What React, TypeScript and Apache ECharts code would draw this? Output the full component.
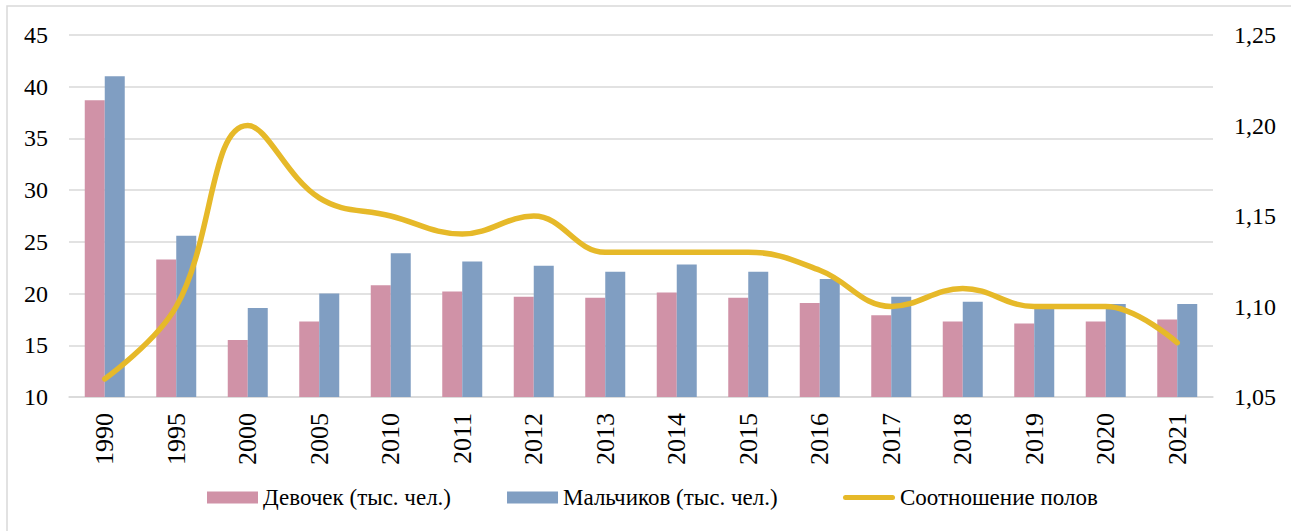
import React, { useEffect, useRef } from "react";
import * as echarts from "echarts";

const categories = ["1990", "1995", "2000", "2005", "2010", "2011", "2012", "2013", "2014", "2015", "2016", "2017", "2018", "2019", "2020", "2021"];
const girls = [38.7, 23.3, 15.5, 17.3, 20.8, 20.2, 19.7, 19.6, 20.1, 19.6, 19.1, 17.9, 17.3, 17.1, 17.3, 17.5];
const boys = [41.0, 25.6, 18.6, 20.0, 23.9, 23.1, 22.7, 22.1, 22.8, 22.1, 21.4, 19.7, 19.2, 18.9, 19.0, 19.0];
const ratio = [1.06, 1.10, 1.20, 1.16, 1.15, 1.14, 1.15, 1.13, 1.13, 1.13, 1.12, 1.10, 1.11, 1.10, 1.10, 1.08];

const FONT = "Liberation Serif";
const CAPSULE = "path://M2.5,0 H49.5 A2.5,2.5 0 0 1 49.5,5 H2.5 A2.5,2.5 0 0 1 2.5,0 Z";

export default function App() {
  const ref = useRef<HTMLDivElement>(null);
  useEffect(() => {
    document.body.style.margin = "0";
    const chart = echarts.init(ref.current!, null, { renderer: "svg" });
    chart.setOption({
      animation: false,
      backgroundColor: "#ffffff",
      textStyle: { fontFamily: FONT, color: "#000" },
      graphic: [
        {
          type: "rect",
          shape: { x: 7, y: 6, width: 1400, height: 700 },
          style: { fill: "none", stroke: "#d9d9d9", lineWidth: 1.5 },
          silent: true,
        },
      ],
      grid: { left: 69, right: 78, top: 35, bottom: 134, containLabel: false },
      legend: [
        {
          left: 207,
          top: 486,
          padding: 0,
          itemWidth: 51,
          itemHeight: 12,
          itemGap: 56,
          textStyle: { fontFamily: FONT, fontSize: 23, color: "#000" },
          data: [
            { name: "Девочек (тыс. чел.)", icon: "rect" },
            { name: "Мальчиков (тыс. чел.)", icon: "rect" },
          ],
        },
        {
          left: 843,
          top: 486,
          padding: 0,
          itemWidth: 52,
          itemHeight: 5,
          textStyle: { fontFamily: FONT, fontSize: 23, color: "#000" },
          data: [{ name: "Соотношение полов", icon: CAPSULE }],
        },
      ],
      xAxis: {
        type: "category",
        data: categories,
        axisLine: { lineStyle: { color: "#d9d9d9", width: 1.5 } },
        axisTick: { show: false },
        axisLabel: { rotate: 90, margin: 16, fontSize: 26, fontFamily: FONT, color: "#000" },
      },
      yAxis: [
        {
          type: "value",
          min: 10,
          max: 45,
          interval: 5,
          axisLine: { show: false },
          axisTick: { show: false },
          splitLine: { lineStyle: { color: "#d9d9d9", width: 1.5 } },
          axisLabel: { margin: 21, fontSize: 24, fontFamily: FONT, color: "#000" },
        },
        {
          type: "value",
          min: 1.05,
          max: 1.25,
          interval: 0.05,
          axisLine: { show: false },
          axisTick: { show: false },
          splitLine: { show: false },
          axisLabel: {
            margin: 21,
            fontSize: 24,
            fontFamily: FONT,
            color: "#000",
            formatter: (v: number) => v.toFixed(2).replace(".", ","),
          },
        },
      ],
      series: [
        {
          name: "Девочек (тыс. чел.)",
          type: "bar",
          data: girls,
          barWidth: 20,
          barGap: "0%",
          itemStyle: { color: "#D092A7" },
        },
        {
          name: "Мальчиков (тыс. чел.)",
          type: "bar",
          data: boys,
          barWidth: 20,
          barGap: "0%",
          itemStyle: { color: "#809EC2" },
        },
        {
          name: "Соотношение полов",
          type: "line",
          yAxisIndex: 1,
          data: ratio,
          smooth: 0.4,
          symbol: "none",
          lineStyle: { color: "#E6B929", width: 5.5, cap: "round" },
          itemStyle: { color: "#E6B929" },
          z: 5,
        },
      ],
    });
    return () => chart.dispose();
  }, []);
  return <div ref={ref} style={{ width: 1291, height: 531 }} />;
}
